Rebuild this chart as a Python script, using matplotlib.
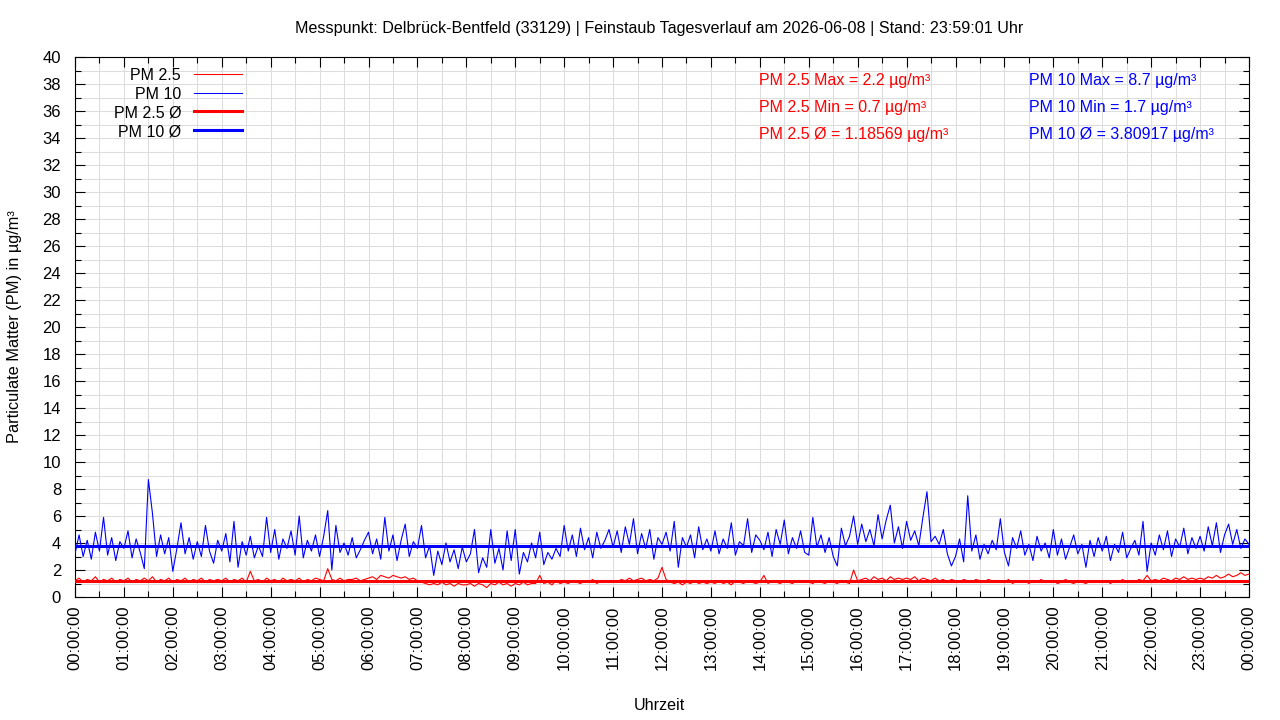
import numpy as np
import matplotlib.pyplot as plt
from matplotlib.ticker import MultipleLocator, FuncFormatter

plt.rcParams['font.family'] = ['Liberation Sans', 'DejaVu Sans']

# 5-minute values, one row per hour (00:00 .. 23:55), plus 24:00
pm10 = [
    3.2, 4.6, 3.0, 4.2, 2.8, 4.8, 3.4, 5.9, 3.1, 4.4, 2.7, 4.1,
    3.6, 4.9, 2.9, 4.3, 3.3, 2.1, 8.7, 6.2, 3.0, 4.6, 3.2, 4.4,
    1.9, 3.6, 5.5, 3.2, 4.4, 2.8, 4.1, 3.0, 5.3, 3.4, 2.5, 4.2,
    3.4, 4.7, 2.6, 5.6, 2.2, 4.1, 3.1, 4.5, 2.9, 3.8, 3.0, 5.9,
    3.3, 5.0, 2.8, 4.3, 3.6, 4.9, 3.1, 6.0, 2.9, 4.2, 3.4, 4.6,
    3.0, 4.5, 6.4, 2.0, 5.3, 3.3, 4.0, 3.1, 4.4, 2.9, 3.5, 4.2,
    4.8, 3.2, 4.3, 2.8, 5.9, 3.4, 4.6, 2.7, 4.2, 5.4, 3.0, 4.1,
    3.6, 5.3, 2.9, 3.8, 1.6, 3.4, 2.4, 4.0, 2.6, 3.5, 2.1, 3.7,
    2.6, 3.2, 5.0, 1.8, 2.9, 2.2, 5.0, 2.5, 3.6, 2.0, 4.9, 2.7,
    5.0, 1.7, 3.3, 2.6, 4.0, 2.9, 4.8, 2.4, 3.3, 2.8, 3.6, 3.0,
    5.3, 3.4, 4.6, 3.0, 5.1, 3.5, 4.4, 2.9, 4.8, 3.6, 4.2, 5.0,
    3.7, 4.9, 3.3, 5.2, 3.9, 5.8, 3.2, 4.7, 3.6, 5.0, 2.8, 4.4,
    3.9, 4.8, 3.4, 5.6, 2.2, 4.4, 3.7, 4.6, 2.9, 5.2, 3.5, 4.3,
    3.4, 4.9, 3.2, 4.3, 3.6, 5.5, 3.1, 4.1, 3.8, 5.8, 3.3, 4.6,
    4.2, 3.5, 4.8, 3.0, 5.0, 3.9, 5.7, 3.2, 4.4, 3.6, 4.9, 3.3,
    3.1, 5.9, 3.7, 4.6, 3.3, 4.4, 3.0, 2.3, 5.1, 3.8, 4.5, 6.0,
    3.9, 5.4, 4.1, 5.0, 3.8, 6.1, 4.3, 5.7, 6.8, 4.0, 5.2, 3.6,
    5.6, 4.2, 4.9, 3.8, 5.9, 7.8, 4.1, 4.5, 3.9, 5.0, 3.2, 2.3,
    3.0, 4.3, 2.6, 7.5, 3.4, 4.6, 2.8, 3.9, 3.2, 4.2, 3.5, 5.8,
    3.3, 2.3, 4.4, 3.6, 4.9, 3.1, 3.9, 2.7, 4.5, 3.4, 4.0, 2.9,
    5.0, 3.1, 4.3, 2.8, 3.7, 4.6, 3.2, 3.9, 2.2, 4.2, 3.0, 4.4,
    3.4, 4.5, 2.7, 3.9, 3.3, 4.8, 2.9, 3.6, 4.2, 3.1, 5.6, 1.9,
    4.0, 3.1, 4.6, 3.5, 4.9, 3.0, 4.3, 3.7, 5.1, 3.2, 4.4, 3.6,
    4.5, 3.4, 5.2, 3.8, 5.5, 3.3, 4.6, 5.4, 3.9, 5.0, 3.6, 4.3,
    3.9,
]

pm25 = [
    1.2, 1.4, 1.1, 1.3, 1.2, 1.5, 1.1, 1.3, 1.2, 1.4, 1.1, 1.3,
    1.2, 1.4, 1.1, 1.3, 1.2, 1.4, 1.2, 1.5, 1.1, 1.3, 1.2, 1.4,
    1.1, 1.3, 1.2, 1.4, 1.1, 1.3, 1.2, 1.4, 1.1, 1.3, 1.2, 1.3,
    1.2, 1.4, 1.1, 1.3, 1.2, 1.4, 1.1, 1.9, 1.2, 1.3, 1.1, 1.4,
    1.2, 1.3, 1.1, 1.4, 1.2, 1.3, 1.2, 1.4, 1.1, 1.3, 1.2, 1.4,
    1.3, 1.2, 2.1, 1.3, 1.2, 1.4, 1.2, 1.3, 1.3, 1.4, 1.2, 1.3,
    1.4, 1.5, 1.3, 1.6, 1.5, 1.4, 1.6, 1.5, 1.4, 1.5, 1.3, 1.4,
    1.2, 1.1, 1.0, 0.9, 1.0, 0.9, 1.1, 0.9, 1.0, 0.8, 1.0, 0.9,
    0.9, 1.0, 0.8, 1.0, 0.9, 0.7, 1.0, 0.9, 1.1, 0.9, 1.0, 0.8,
    1.0, 0.9, 1.1, 0.9, 1.0, 1.0, 1.6, 1.0, 1.1, 0.9, 1.2, 1.0,
    1.1, 1.0, 1.2, 1.1, 1.0, 1.2, 1.1, 1.3, 1.0, 1.2, 1.1, 1.2,
    1.2, 1.1, 1.3, 1.2, 1.4, 1.2, 1.3, 1.4, 1.2, 1.3, 1.2, 1.4,
    2.2, 1.3, 1.1, 1.0, 1.1, 0.9, 1.1, 1.0, 1.2, 1.0, 1.1, 1.0,
    1.1, 1.0, 1.2, 1.0, 1.1, 0.9, 1.2, 1.1, 1.0, 1.2, 1.1, 1.0,
    1.1, 1.6, 1.0, 1.2, 1.1, 1.0, 1.2, 1.1, 1.0, 1.2, 1.1, 1.2,
    1.1, 1.0, 1.2, 1.1, 1.0, 1.2, 1.1, 1.0, 1.2, 1.1, 1.0, 2.0,
    1.2, 1.3, 1.4, 1.2, 1.5, 1.3, 1.4, 1.2, 1.5, 1.3, 1.4, 1.3,
    1.4, 1.3, 1.5, 1.2, 1.4, 1.3, 1.2, 1.4, 1.2, 1.3, 1.1, 1.3,
    1.2, 1.1, 1.3, 1.2, 1.1, 1.3, 1.2, 1.1, 1.3, 1.2, 1.1, 1.2,
    1.1, 1.3, 1.0, 1.2, 1.1, 1.2, 1.0, 1.2, 1.1, 1.3, 1.1, 1.2,
    1.2, 1.0, 1.1, 1.3, 1.1, 1.0, 1.2, 1.1, 1.0, 1.2, 1.1, 1.2,
    1.1, 1.2, 1.0, 1.2, 1.1, 1.3, 1.1, 1.2, 1.1, 1.3, 1.2, 1.6,
    1.2, 1.3, 1.2, 1.4, 1.3, 1.2, 1.4, 1.3, 1.5, 1.3, 1.4, 1.3,
    1.4, 1.3, 1.5, 1.4, 1.6, 1.4, 1.5, 1.7, 1.5, 1.6, 1.8, 1.6,
    1.7,
]

pm25_stats = {"max": "2.2", "min": "0.7", "mean": 1.18569}
pm10_stats = {"max": "8.7", "min": "1.7", "mean": 3.80917}

titel = "Messpunkt: Delbrück-Bentfeld (33129) | Feinstaub Tagesverlauf am 2026-06-08 | Stand: 23:59:01 Uhr"

stunden = np.arange(len(pm10)) * 5 / 60.0

fig = plt.figure(figsize=(12.8, 7.2), dpi=100)
ax = fig.add_axes([75 / 1280, 1 - 597 / 720, 1174 / 1280, 540 / 720])

ax.plot(stunden, pm25, color="#ff0000", lw=0.8, zorder=3)
ax.plot(stunden, pm10, color="#0000ff", lw=0.8, zorder=3)
ax.axhline(pm25_stats["mean"], color="#ff0000", lw=2.2, zorder=4)
ax.axhline(pm10_stats["mean"], color="#0000ff", lw=2.2, zorder=4)

ax.set_xlim(0, 24)
ax.set_ylim(0, 40)
ax.xaxis.set_major_locator(MultipleLocator(1))
ax.xaxis.set_minor_locator(MultipleLocator(0.5))
ax.yaxis.set_major_locator(MultipleLocator(2))
ax.yaxis.set_minor_locator(MultipleLocator(1))
ax.xaxis.set_major_formatter(FuncFormatter(lambda v, p: "%02d:00:00" % (int(round(v)) % 24)))
ax.grid(True, which="both", color="#dddddd", lw=0.75, zorder=0)
ax.set_axisbelow(True)
ax.tick_params(which="both", direction="in", top=True, right=True, labelsize=12, color="black")
ax.tick_params(which="major", length=7, width=0.8)
ax.tick_params(which="minor", length=4, width=0.8)
ax.tick_params(axis="y", which="major", pad=10)
ax.tick_params(axis="x", which="major", pad=6)
plt.setp(ax.get_xticklabels(), rotation=90)
for s in ax.spines.values():
    s.set_linewidth(0.8)

fig.text(659 / 1280, 1 - 28 / 720, titel, ha="center", va="center", fontsize=11.6)
fig.text(659 / 1280, 1 - 706 / 720, "Uhrzeit", ha="center", va="center", fontsize=11.6)
fig.text(15 / 1280, 1 - 327 / 720, "Particulate Matter (PM) in µg/m³", ha="center", va="center",
         rotation=90, fontsize=11.8)

# legend like gnuplot: text right aligned, sample line to the right
legende = [("PM 2.5", "#ff0000", 0.75), ("PM 10", "#0000ff", 0.75),
           ("PM 2.5 Ø", "#ff0000", 2.2), ("PM 10 Ø", "#0000ff", 2.2)]
for i, (txt, col, lw) in enumerate(legende):
    yy = (597 - (74 + i * 18.7)) / 540
    ax.text(0.0903, yy - 2 / 540, txt, transform=ax.transAxes, ha="right", va="center", fontsize=11.5)
    ax.plot([0.1014, 0.1422], [yy, yy], transform=ax.transAxes, color=col, lw=lw)

sx1, sx2 = 0.5826, 0.8126
sy = [0.957, 0.907, 0.857]
ax.text(sx1, sy[0], "PM 2.5 Max = %s µg/m³" % pm25_stats["max"], transform=ax.transAxes,
        color="#ff0000", va="center", fontsize=11.5)
ax.text(sx1, sy[1], "PM 2.5 Min = %s µg/m³" % pm25_stats["min"], transform=ax.transAxes,
        color="#ff0000", va="center", fontsize=11.5)
ax.text(sx1, sy[2], "PM 2.5 Ø = %s µg/m³" % pm25_stats["mean"], transform=ax.transAxes,
        color="#ff0000", va="center", fontsize=11.5)
ax.text(sx2, sy[0], "PM 10 Max = %s µg/m³" % pm10_stats["max"], transform=ax.transAxes,
        color="#0000ff", va="center", fontsize=11.5)
ax.text(sx2, sy[1], "PM 10 Min = %s µg/m³" % pm10_stats["min"], transform=ax.transAxes,
        color="#0000ff", va="center", fontsize=11.5)
ax.text(sx2, sy[2], "PM 10 Ø = %s µg/m³" % pm10_stats["mean"], transform=ax.transAxes,
        color="#0000ff", va="center", fontsize=11.5)

plt.savefig("out.png", dpi=100)
